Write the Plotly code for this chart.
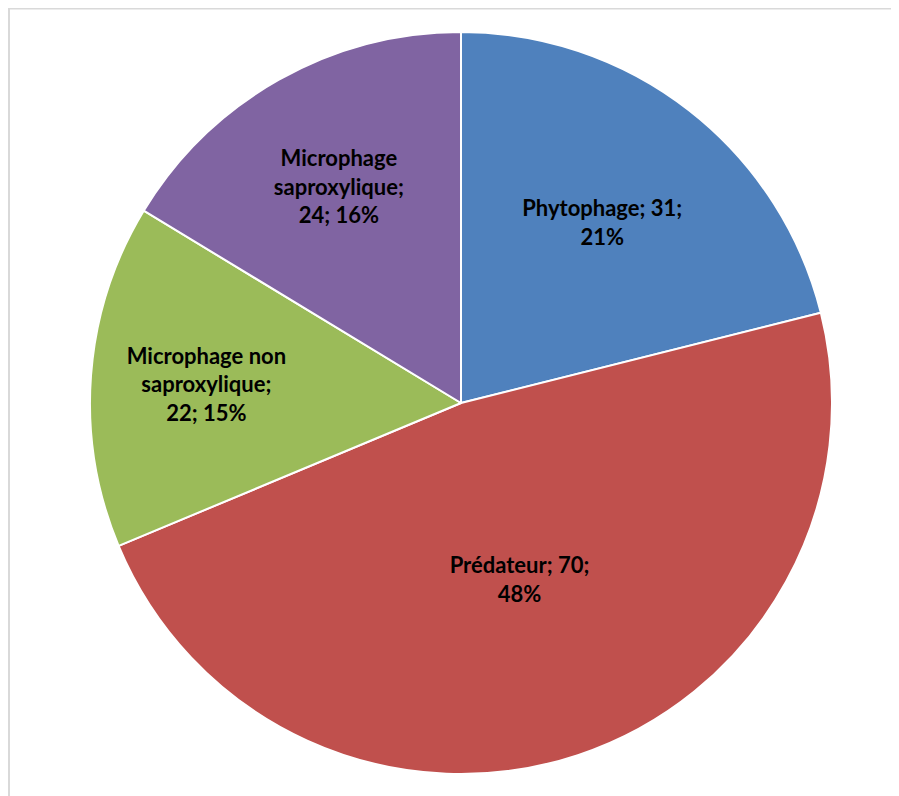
import plotly.graph_objects as go

categories = ["Phytophage", "Prédateur", "Microphage non saproxylique", "Microphage saproxylique"]
values = [31, 70, 22, 24]
percent_labels = ["21%", "48%", "15%", "16%"]
label_text = [
    "Phytophage; 31;<br>21%",
    "Prédateur; 70;<br>48%",
    "Microphage non<br>saproxylique;<br>22; 15%",
    "Microphage<br>saproxylique;<br>24; 16%",
]
colors = ["#4F81BD", "#C0504D", "#9BBB59", "#8064A2"]

# page has an 8px body margin, so the figure is sized to fit the 899x796 window
W, H = 891, 788
ml, mr, mt, mb = 82, 67, 24, 22

fig = go.Figure(go.Pie(
    labels=categories,
    values=values,
    text=label_text,
    textinfo="text",
    textposition="inside",
    insidetextorientation="horizontal",
    sort=False,
    direction="clockwise",
    rotation=0,
    marker=dict(colors=colors, line=dict(color="white", width=2)),
    textfont=dict(family="Lato", size=22, color="black", weight="bold"),
    hoverinfo="label+value+percent",
))

pw = W - ml - mr
ph = H - mt - mb
fig.add_shape(type="rect", xref="paper", yref="paper",
              x0=(1 - ml) / pw, x1=(W + 20 - ml) / pw,
              y0=(H - mb - (H + 20)) / ph, y1=(H - mb - 0.5) / ph,
              line=dict(color="#D9D9D9", width=2), fillcolor="rgba(0,0,0,0)", layer="below")

fig.update_layout(
    width=W, height=H,
    margin=dict(l=ml, r=mr, t=mt, b=mb),
    showlegend=False,
    paper_bgcolor="white",
    plot_bgcolor="white",
)
fig.write_html("out.html")
